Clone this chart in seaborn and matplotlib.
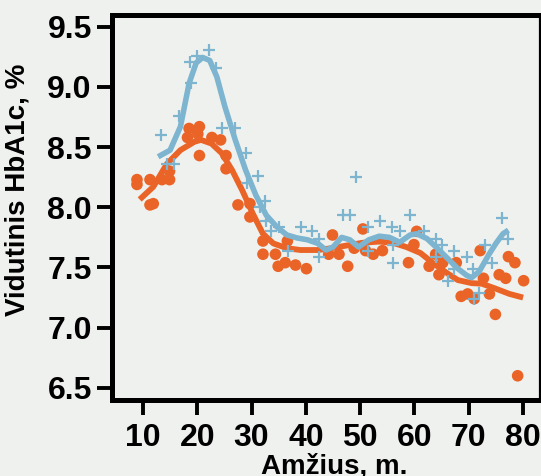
import matplotlib
matplotlib.use("Agg")
import matplotlib.pyplot as plt
import seaborn as sns
import pandas as pd

# ---- data ----
orange_age = [8.9, 8.9, 11.3, 11.3, 11.9, 13.5, 14.9, 14.9, 18.5, 18.2, 20.4, 20.1, 20.4,
              22.7, 24.3, 25.3, 25.3, 27.5, 29.7, 29.7, 32.1, 32.1, 34.4, 34.9, 36.2,
              36.6, 38.1, 40.1, 44.2, 44.9, 46.1, 47.7, 48.9, 50.5, 51.0, 52.4, 54.1,
              58.9, 59.9, 60.4, 62.7, 63.9, 64.5, 65.2, 67.7, 68.6, 69.8, 71.0, 72.1,
              72.7, 73.8, 74.9, 75.6, 76.8, 77.3, 78.5, 79.0, 80.1]
orange_hba1c = [8.23, 8.19, 8.23, 8.02, 8.03, 8.23, 8.23, 8.30, 8.655, 8.58, 8.67, 8.61, 8.43,
                8.58, 8.56, 8.43, 8.32, 8.02, 8.03, 7.92, 7.72, 7.61, 7.61, 7.51, 7.54,
                7.72, 7.52, 7.49, 7.61, 7.77, 7.61, 7.51, 7.66, 7.82, 7.64, 7.61, 7.64,
                7.54, 7.69, 7.80, 7.51, 7.61, 7.44, 7.54, 7.54, 7.26, 7.28, 7.24, 7.64,
                7.41, 7.28, 7.11, 7.44, 7.41, 7.59, 7.54, 6.60, 7.39]

blue_age = [13.3, 14.4, 15.7, 16.7, 18.8, 18.7, 20.0, 22.2, 23.4, 24.5, 26.9, 28.9, 29.1,
            31.1, 31.6, 32.4, 32.6, 33.6, 35.1, 36.8, 39.1, 41.2, 42.5, 42.5, 46.9, 48.1,
            49.2, 51.4, 51.5, 53.7, 55.9, 56.0, 56.0, 57.3, 59.2, 61.7, 63.9, 63.9, 65.0,
            66.1, 67.3, 67.3, 69.6, 70.7, 70.9, 71.9, 72.9, 74.2, 76.2, 77.3]
blue_hba1c = [8.60, 8.36, 8.36, 8.76, 9.03, 9.21, 9.26, 9.31, 9.16, 8.655, 8.655, 8.45, 8.20,
              8.26, 8.00, 8.05, 7.89, 7.80, 7.84, 7.64, 7.84, 7.80, 7.74, 7.59, 7.94, 7.94,
              8.25, 7.84, 7.64, 7.89, 7.84, 7.69, 7.54, 7.80, 7.94, 7.80, 7.74, 7.59, 7.69,
              7.39, 7.64, 7.49, 7.59, 7.49, 7.24, 7.29, 7.69, 7.54, 7.91, 7.74]

orange_fit_age = [9.4, 11.9, 14.4, 16.9, 19.5, 20.7, 22.6, 24.5, 26.4, 28.3, 30.2, 32.1, 34.0,
                  36.5, 39.0, 42.2, 44.7, 47.2, 50.4, 53.5, 56.0, 58.5, 61.1, 63.6, 66.1,
                  68.0, 70.5, 72.4, 74.9, 77.5, 80.0]
orange_fit = [8.065, 8.17, 8.36, 8.475, 8.545, 8.56, 8.53, 8.45, 8.31, 8.14, 7.95, 7.78, 7.70,
              7.66, 7.645, 7.645, 7.66, 7.68, 7.705, 7.715, 7.705, 7.67, 7.62, 7.53, 7.45,
              7.395, 7.37, 7.365, 7.325, 7.28, 7.25]

blue_fit_age = [12.8, 15.0, 16.9, 18.5, 19.8, 21.0, 22.3, 23.6, 25.1, 27.0, 28.9, 30.8, 32.7,
                34.6, 36.5, 38.4, 40.3, 42.2, 43.7, 45.0, 46.6, 48.1, 49.7, 51.6, 53.5, 55.4,
                57.3, 59.2, 60.4, 62.3, 64.2, 66.1, 68.0, 69.6, 70.5, 71.9, 73.8, 75.0, 76.3,
                77.3]
blue_fit = [8.42, 8.475, 8.67, 9.03, 9.20, 9.245, 9.22, 9.085, 8.835, 8.56, 8.31, 8.10, 7.935,
            7.84, 7.77, 7.745, 7.73, 7.70, 7.645, 7.67, 7.75, 7.73, 7.67, 7.73, 7.76, 7.75,
            7.71, 7.77, 7.78, 7.74, 7.66, 7.575, 7.49, 7.435, 7.415, 7.465, 7.615, 7.70, 7.78,
            7.81]

x_ticks = [10, 20, 30, 40, 50, 60, 70, 80]
y_ticks = [6.5, 7.0, 7.5, 8.0, 8.5, 9.0, 9.5]
y_tick_labels = ["6.5", "7.0", "7.5", "8.0", "8.5", "9.0", "9.5"]
x_label = "Amžius, m."
y_label = "Vidutinis HbA1c, %"

# ---- style ----
BG = "#eff1ee"
ORANGE = "#ea6428"
BLUE = "#7db4d0"

sns.set_theme(style="ticks")
plt.rcParams['font.family'] = ['Liberation Sans', 'DejaVu Sans']
plt.rcParams['font.weight'] = 'bold'

fig = plt.figure(figsize=(5.41, 4.76), dpi=100, facecolor=BG)
ax = fig.add_axes([0.207, 0.16, 0.791, 0.809])
ax.set_facecolor(BG)

df_o = pd.DataFrame({"age": orange_age, "v": orange_hba1c})
df_b = pd.DataFrame({"age": blue_age, "v": blue_hba1c})
df_of = pd.DataFrame({"age": orange_fit_age, "v": orange_fit})
df_bf = pd.DataFrame({"age": blue_fit_age, "v": blue_fit})

sns.scatterplot(data=df_o, x="age", y="v", ax=ax, color=ORANGE, s=70, marker="o",
                edgecolor="none", linewidth=0, zorder=2)
sns.lineplot(data=df_of, x="age", y="v", ax=ax, color=ORANGE, linewidth=4.2,
             sort=False, zorder=3, solid_capstyle="butt")
sns.scatterplot(data=df_b, x="age", y="v", ax=ax, color=BLUE, s=64, marker="+",
                linewidth=1.6, zorder=4)
sns.lineplot(data=df_bf, x="age", y="v", ax=ax, color=BLUE, linewidth=4.0,
             sort=False, zorder=5, solid_capstyle="butt")

ax.set_xlim(4.3, 83.1)
ax.set_ylim(6.4, 9.6)
ax.set_xticks(x_ticks)
ax.set_yticks(y_ticks)
ax.set_yticklabels(y_tick_labels)

for side in ["left", "bottom", "top"]:
    ax.spines[side].set_linewidth(3.6)
    ax.spines[side].set_color("black")
ax.spines["right"].set_linewidth(1.6)
ax.spines["right"].set_color("black")

ax.tick_params(axis="both", direction="out", length=10.5, width=2.8, color="black",
               labelsize=23, labelcolor="black")
ax.tick_params(axis="y", pad=4)
ax.tick_params(axis="x", pad=6)
for lab in ax.get_xticklabels() + ax.get_yticklabels():
    lab.set_fontweight("bold")

ax.set_xlabel(x_label, fontsize=20, fontweight="bold", color="black")
ax.set_ylabel(y_label, fontsize=20, fontweight="bold", color="black")
ax.xaxis.set_label_coords(0.52, -0.14)
ax.yaxis.set_label_coords(-0.19, 0.545)
ax.grid(False)

fig.savefig("out.png", dpi=100, facecolor=BG)
